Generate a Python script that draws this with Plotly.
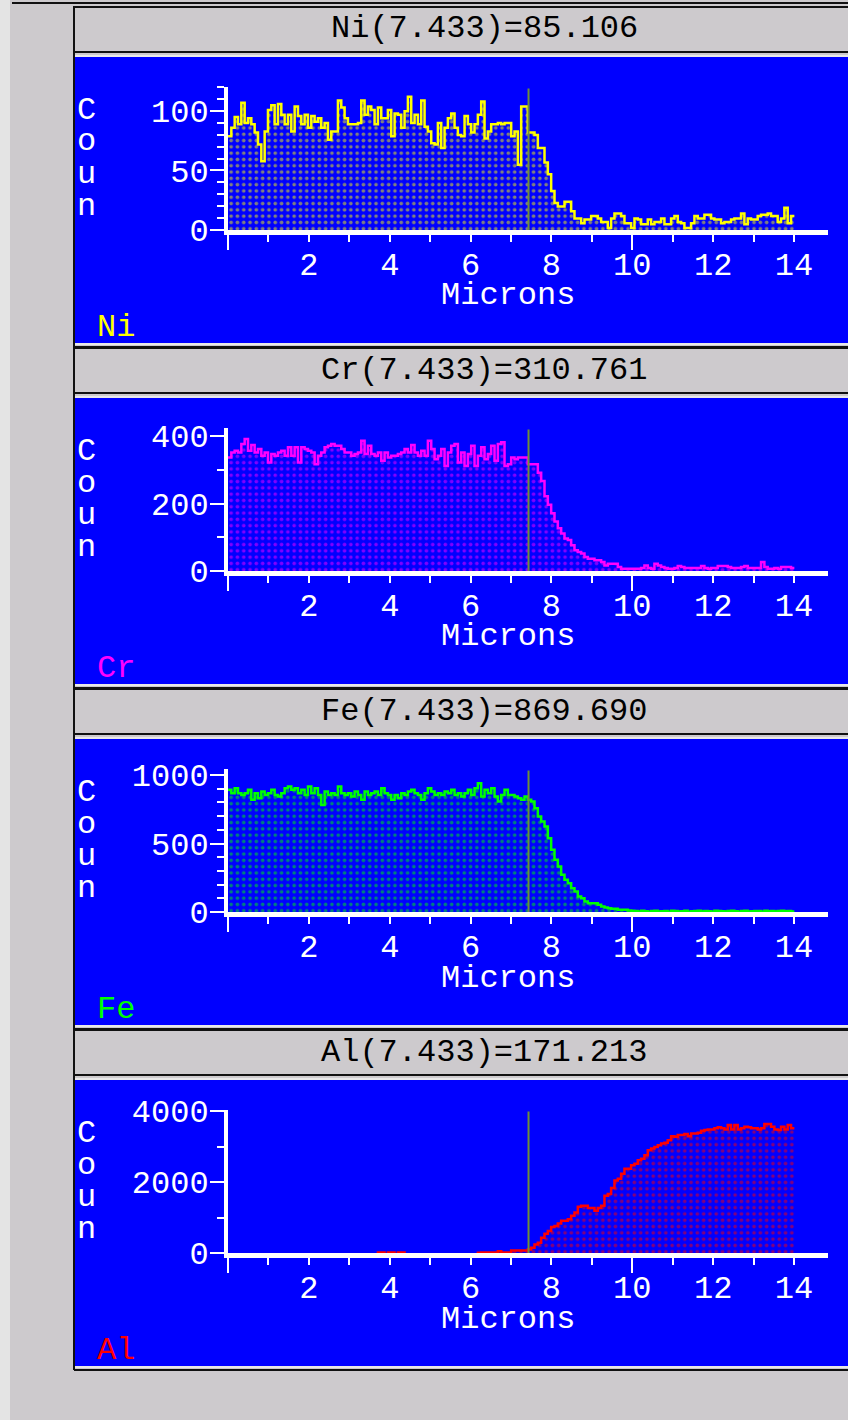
import plotly.graph_objects as go

# ---------------- data ----------------
elements = ["Ni", "Cr", "Fe", "Al"]
cursor_position = 7.433
cursor_values = [85.106, 310.761, 869.690, 171.213]
channel_step = 0.0824  # microns per channel
x_tick_labels = [2, 4, 6, 8, 10, 12, 14]

ni_counts = [80, 87, 96, 90, 108, 91, 95, 90, 83, 73, 59, 84, 102, 106, 90, 107, 98, 90, 98, 84,
             105, 97, 90, 98, 87, 97, 92, 95, 87, 91, 77, 84, 84, 110, 104, 95, 90, 90, 90, 91,
             110, 98, 105, 102, 90, 104, 95, 95, 102, 80, 99, 98, 87, 101, 113, 91, 98, 90, 110, 88,
             84, 74, 73, 91, 70, 87, 95, 99, 87, 81, 80, 97, 90, 83, 90, 98, 109, 78,
             84, 90, 90, 91, 90, 91, 91, 80, 84, 56, 105, 105, 83, 83, 81, 70, 70, 58, 48, 34,
             24, 21, 21, 25, 25, 17, 11, 11, 7, 10, 10, 13, 13, 11, 8, 8, 3, 11, 15, 15,
             13, 7, 7, 3, 11, 10, 6, 6, 10, 6, 8, 8, 11, 6, 6, 11, 13, 8, 7, 3,
             3, 7, 13, 11, 11, 14, 14, 11, 10, 10, 7, 8, 8, 10, 11, 11, 15, 6, 11, 10,
             10, 13, 14, 14, 15, 13, 13, 8, 11, 20, 7, 13]

cr_counts = [341, 356, 361, 356, 381, 396, 361, 378, 356, 366, 346, 356, 326, 351, 346, 356, 361, 346, 371, 346,
             371, 326, 371, 366, 361, 356, 321, 346, 356, 371, 376, 381, 376, 376, 366, 356, 356, 346, 351, 356,
             391, 351, 376, 351, 346, 356, 331, 356, 341, 346, 346, 351, 356, 366, 356, 378, 356, 346, 361, 346,
             391, 366, 336, 346, 366, 316, 356, 376, 381, 326, 356, 316, 351, 376, 316, 346, 371, 336,
             351, 376, 331, 381, 386, 316, 321, 341, 336, 341, 341, 341, 321, 321, 321, 296, 271, 226, 201, 176,
             151, 131, 116, 101, 96, 81, 66, 61, 56, 46, 41, 41, 36, 36, 31, 21, 26, 26, 26, 16,
             11, 11, 11, 11, 11, 11, 13, 21, 13, 11, 26, 21, 16, 13, 11, 11, 13, 19, 16, 13,
             13, 13, 13, 13, 19, 13, 11, 13, 13, 19, 19, 19, 16, 13, 13, 13, 16, 19, 13, 13,
             13, 13, 31, 16, 11, 11, 13, 11, 16, 16, 16, 13]

fe_counts = [903, 878, 915, 878, 866, 878, 903, 830, 878, 842, 890, 866, 878, 903, 866, 854, 878, 915, 927, 903,
             915, 878, 903, 866, 927, 878, 915, 866, 793, 890, 866, 878, 866, 927, 878, 866, 878, 854, 890, 866,
             830, 890, 866, 878, 890, 866, 915, 878, 866, 830, 866, 842, 878, 866, 890, 903, 878, 866, 830, 878,
             915, 890, 866, 878, 866, 890, 878, 903, 866, 878, 854, 878, 903, 866, 915, 951, 854, 903,
             878, 915, 854, 817, 866, 903, 866, 866, 854, 842, 830, 854, 830, 817, 769, 708, 672, 635, 550, 465,
             392, 343, 282, 246, 221, 185, 161, 124, 112, 88, 75, 75, 75, 63, 51, 44, 39, 34, 34, 27,
             27, 27, 22, 20, 18, 14, 20, 16, 12, 18, 20, 14, 16, 18, 12, 20, 18, 14, 16, 20,
             12, 16, 18, 20, 14, 18, 16, 12, 20, 18, 16, 14, 18, 20, 16, 12, 18, 20, 14, 16,
             18, 18, 12, 20, 16, 18, 14, 18, 20, 16, 18, 14]

al_counts = [0, 0, 0, 0, 0, 0, 0, 0, 0, 0, 0, 0, 0, 0, 0, 0, 0, 0, 0, 0,
             0, 0, 0, 0, 0, 0, 0, 0, 0, 0, 0, 0, 0, 0, 0, 0, 0, 0, 0, 0,
             0, 0, 0, 0, 0, 55, 55, 0, 55, 55, 0, 55, 55, 0, 0, 0, 0, 0, 0, 0,
             0, 0, 0, 0, 0, 0, 0, 0, 0, 0, 0, 0, 0, 0, 0, 50, 55, 55,
             55, 55, 55, 95, 55, 55, 55, 114, 114, 114, 114, 114, 142, 190, 284, 332, 474, 588, 664, 777,
             806, 872, 948, 948, 995, 1090, 1185, 1346, 1374, 1374, 1308, 1308, 1232, 1308, 1374, 1659, 1706, 1877, 2085, 2133,
             2275, 2417, 2417, 2512, 2559, 2654, 2701, 2796, 2938, 2986, 3033, 3081, 3128, 3147, 3223, 3336, 3318, 3365, 3365, 3393,
             3336, 3412, 3412, 3431, 3488, 3507, 3526, 3526, 3555, 3583, 3555, 3526, 3649, 3526, 3649, 3526, 3555, 3602, 3583, 3555,
             3555, 3526, 3555, 3678, 3678, 3602, 3526, 3507, 3602, 3526, 3649, 3555]

series = [ni_counts, cr_counts, fe_counts, al_counts]
y_max = [120, 424, 1044, 4030]
y_major = [50, 200, 500, 2000]
y_minor = [10, 100, 100, 1000]

# ---------------- styling ----------------
W, H = 848, 1420
OFF = 341
FONT = "Liberation Mono"
FS = 32
colors = ["#FFFF00", "#FF00FF", "#00FF00", "#FF0000"]
BLUE = "#0000FF"
GRAY = "#cdcacd"
CURSOR = "#6f8f3a"
PLOT_H = 143  # px height of each plot area
ZERO_SINK = 1.5  # px the data baseline sits under the axis line


def fx(px):
    return px / W


def fy(py):
    return 1 - py / H


fig = go.Figure()
shapes = []
annotations = []

# page decorations
shapes.append(dict(type="rect", xref="paper", yref="paper", x0=0, x1=fx(10), y0=0, y1=1,
                   fillcolor="#e4e4e4", line=dict(width=0), layer="below"))
shapes.append(dict(type="line", xref="paper", yref="paper", x0=fx(12), x1=1, y0=fy(3), y1=fy(3),
                   line=dict(color="#111111", width=2), layer="below"))

tick_style = dict(ticks="outside", tickwidth=2, tickcolor="white")

for i, (el, counts) in enumerate(zip(elements, series)):
    o = OFF * i
    n = i + 1
    xa = "x" if n == 1 else f"x{n}"
    ya = "y" if n == 1 else f"y{n}"
    xo = f"x{n + 4}"
    yo = f"y{n + 4}"
    yd = f"y{n + 8}"

    # panel decorations
    shapes.append(dict(type="rect", xref="paper", yref="paper", x0=fx(74), x1=fx(852),
                       y0=fy(52 + o), y1=fy(7 + o), fillcolor=GRAY,
                       line=dict(color="#111111", width=2), layer="below"))
    shapes.append(dict(type="rect", xref="paper", yref="paper", x0=fx(74), x1=fx(852),
                       y0=fy(344 + o), y1=fy(56 + o), fillcolor=BLUE,
                       line=dict(color="#e8e8e8", width=2), layer="below"))
    shapes.append(dict(type="line", xref="paper", yref="paper", x0=fx(74), x1=fx(74),
                       y0=fy(347 + o), y1=fy(7 + o), line=dict(color="#111111", width=2), layer="below"))
    shapes.append(dict(type="line", xref="paper", yref="paper", x0=fx(74), x1=1,
                       y0=fy(347 + o), y1=fy(347 + o), line=dict(color="#111111", width=2), layer="below"))

    # data
    xs = [channel_step * k for k in range(len(counts) + 1)]
    ys = list(counts) + [counts[-1]]
    fig.add_trace(go.Scatter(
        x=xs, y=ys, mode="lines", line=dict(color=colors[i], width=2.5, shape="hv"),
        fill="tozeroy",
        fillpattern=dict(shape=".", fgcolor=colors[i], bgcolor=BLUE, size=6.3, solidity=0.27),
        xaxis=xa, yaxis=yd, showlegend=False, hoverinfo="skip"))
    fig.add_trace(go.Scatter(
        x=[cursor_position, cursor_position], y=[0, y_max[i]], mode="lines",
        line=dict(color=CURSOR, width=2), xaxis=xa, yaxis=yd, showlegend=False, hoverinfo="skip"))
    fig.add_trace(go.Scatter(x=[cursor_position], y=[0], mode="markers", marker=dict(opacity=0),
                             xaxis=xo, yaxis=yo, showlegend=False, hoverinfo="skip"))
    fig.add_trace(go.Scatter(x=[cursor_position], y=[0], mode="markers", marker=dict(opacity=0),
                             xaxis=xa, yaxis=ya, showlegend=False, hoverinfo="skip"))

    ytop, ybot = 87 + o, 230 + o
    xdom = [fx(228), fx(828)]
    ydom = [fy(ybot), fy(ytop)]
    xr = [0, 14.84]
    yr = [0, y_max[i]]
    sink = ZERO_SINK * y_max[i] / PLOT_H
    yr_data = [sink, y_max[i] + sink]

    # main axes: lines and tick labels
    fig.layout[("xaxis" if n == 1 else f"xaxis{n}")] = dict(
        domain=xdom, anchor=ya, range=xr, showgrid=False, zeroline=False, automargin=False,
        showline=True, linecolor="white", linewidth=5,
        tickmode="array", tickvals=x_tick_labels, ticks="", ticklabelstandoff=2,
        tickfont=dict(family=FONT, size=FS, color="white"), fixedrange=True)
    fig.layout[("yaxis" if n == 1 else f"yaxis{n}")] = dict(
        domain=ydom, anchor=xa, range=yr, showgrid=False, zeroline=False, automargin=False,
        showline=True, linecolor="white", linewidth=4,
        tickmode="linear", tick0=0, dtick=y_major[i], ticks="", ticklabelstandoff=9,
        tickfont=dict(family=FONT, size=FS, color="white"), fixedrange=True)

    # overlay axes: tick marks only
    fig.layout[f"xaxis{n + 4}"] = dict(
        overlaying=xa, anchor=yo, range=xr, showgrid=False, zeroline=False, automargin=False,
        showline=True, linecolor="white", linewidth=5, side="bottom",
        tickmode="array", tickvals=[0, 10], ticklen=15, showticklabels=False,
        minor=dict(tickmode="linear", tick0=0, dtick=1, ticklen=7, showgrid=False, **tick_style),
        fixedrange=True, **tick_style)
    fig.layout[f"yaxis{n + 4}"] = dict(
        overlaying=ya, anchor=xo, range=yr, showgrid=False, zeroline=False, automargin=False,
        showline=True, linecolor="white", linewidth=4, side="left",
        tickmode="linear", tick0=0, dtick=y_major[i], ticklen=14, showticklabels=False,
        minor=dict(tickmode="linear", tick0=0, dtick=y_minor[i], ticklen=7, showgrid=False, **tick_style),
        fixedrange=True, **tick_style)
    # data axis (drawn without line/ticks): baseline tucked under the white axis line
    fig.layout[f"yaxis{n + 8}"] = dict(
        overlaying=ya, anchor=xa, side="left", range=yr_data, showline=False, ticks="",
        showticklabels=False, showgrid=False, zeroline=False, automargin=False, fixedrange=True)

    # texts
    annotations.append(dict(xref="paper", yref="paper", x=fx(484), y=fy(29 + o),
                            text=f"{el}({cursor_position:.3f})={cursor_values[i]:.3f}",
                            showarrow=False, xanchor="center", yanchor="middle",
                            font=dict(family=FONT, size=FS, color="#000000")))
    for letter, cy in zip("Coun", [110, 142, 174, 206]):
        annotations.append(dict(xref="paper", yref="paper", x=fx(86), y=fy(cy + o), text=letter,
                                showarrow=False, xanchor="center", yanchor="middle",
                                font=dict(family=FONT, size=FS, color="white")))
    annotations.append(dict(xref="paper", yref="paper", x=fx(508), y=fy(296 + o), text="Microns",
                            showarrow=False, xanchor="center", yanchor="middle",
                            font=dict(family=FONT, size=FS, color="white")))
    annotations.append(dict(xref="paper", yref="paper", x=fx(95), y=fy(327 + o), text=el,
                            showarrow=False, xanchor="left", yanchor="middle",
                            font=dict(family=FONT, size=FS, color=colors[i])))

fig.update_layout(
    width=W, height=H, margin=dict(l=0, r=0, t=0, b=0, autoexpand=False),
    paper_bgcolor=GRAY, plot_bgcolor="rgba(0,0,0,0)",
    shapes=shapes, annotations=annotations, showlegend=False,
)

fig.write_html("out.html")
